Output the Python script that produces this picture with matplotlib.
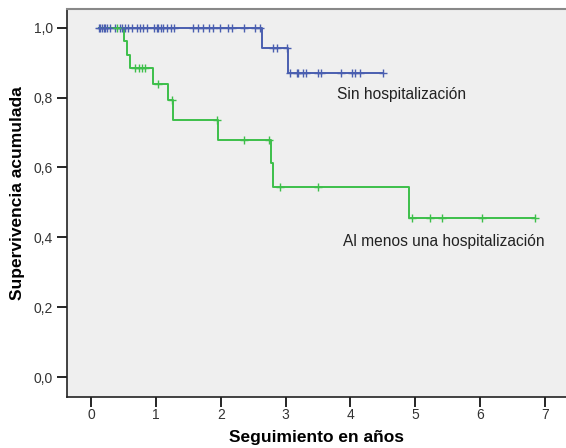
import numpy as np
import matplotlib
matplotlib.use("Agg")
import matplotlib.pyplot as plt

plt.rcParams['font.family'] = ['Liberation Sans', 'DejaVu Sans']

# Sin hospitalizacion: step times / survival after step, censored times
sin_t = [0.11, 2.63, 3.03]
sin_s = [1.0, 0.942, 0.871]
sin_end = 4.50
sin_cens = [0.11, 0.13, 0.16, 0.19, 0.21, 0.24, 0.28, 0.36, 0.44, 0.47, 0.52, 0.57,
            0.62, 0.70, 0.75, 0.80, 0.86, 0.97, 1.01, 1.03, 1.08, 1.11, 1.16, 1.23,
            1.28, 1.57, 1.65, 1.73, 1.81, 1.88, 1.99, 2.11, 2.17, 2.35, 2.53, 2.60,
            2.81, 2.86, 3.02,
            3.06, 3.17, 3.19, 3.27, 3.32, 3.50, 3.55, 3.86, 4.02, 4.07, 4.15, 4.50]

# Al menos una hospitalizacion
hosp_t = [0.11, 0.51, 0.55, 0.60, 0.95, 1.19, 1.26, 1.955, 2.78, 2.81, 4.91]
hosp_s = [1.0, 0.961, 0.923, 0.885, 0.84, 0.792, 0.737, 0.68, 0.613, 0.545, 0.454]
hosp_end = 6.85
hosp_cens = [0.40, 0.68, 0.73, 0.78, 0.83, 1.03, 1.24, 1.94, 2.36, 2.75, 2.92, 3.50,
             4.95, 5.23, 5.42, 6.03, 6.85]

BLUE = "#4a5fb0"
GREEN = "#3dbf4a"


def surv_at(t, times, surv):
    idx = np.searchsorted(times, t, side="right") - 1
    return np.array(surv)[np.clip(idx, 0, None)]


def draw(ax, times, surv, end, cens, color):
    x = list(times) + [end]
    y = list(surv) + [surv[-1]]
    ax.step(x, y, where="post", color=color, lw=1.4, zorder=3)
    c = np.array(cens)
    ax.plot(c, surv_at(c, times, surv), ls="none", marker="+", ms=6, mew=1.0,
            color=color, zorder=4)


fig = plt.figure(figsize=(5.66, 4.48), dpi=100)
ax = fig.add_axes([0.118, 0.114, 0.882, 0.866])
ax.set_facecolor("#efefef")

draw(ax, sin_t, sin_s, sin_end, sin_cens, BLUE)
draw(ax, hosp_t, hosp_s, hosp_end, hosp_cens, GREEN)

ax.text(3.8, 0.81, "Sin hospitalización", fontsize=11.2, color="#222222", ha="left", va="center")
ax.text(3.88, 0.388, "Al menos una hospitalización", fontsize=11.2, color="#222222", ha="left", va="center")

ax.set_xlim(-0.38, 7.33)
ax.set_ylim(-0.057, 1.054)
ax.set_xticks(range(0, 8))
ax.set_yticks([0.0, 0.2, 0.4, 0.6, 0.8, 1.0])
ax.set_yticklabels(["0,0", "0,2", "0,4", "0,6", "0,8", "1,0"])
ax.tick_params(direction="out", length=7, width=1.2, labelsize=10, labelcolor="#333333")
ax.tick_params(axis="x", pad=1)
ax.tick_params(axis="y", pad=3)
ax.spines["right"].set_visible(False)
ax.spines["top"].set_color("#888888")
ax.spines["top"].set_linewidth(1.5)
for s in ("left", "bottom"):
    ax.spines[s].set_color("#222222")
    ax.spines[s].set_linewidth(1.2)

ax.set_xlabel("Seguimiento en años", fontsize=12.5, fontweight="bold", labelpad=6)
ax.set_ylabel("Supervivencia acumulada", fontsize=12.5, fontweight="bold")
ax.yaxis.set_label_coords(-0.083, 0.525)

fig.savefig("out.png", dpi=100, facecolor="white")
